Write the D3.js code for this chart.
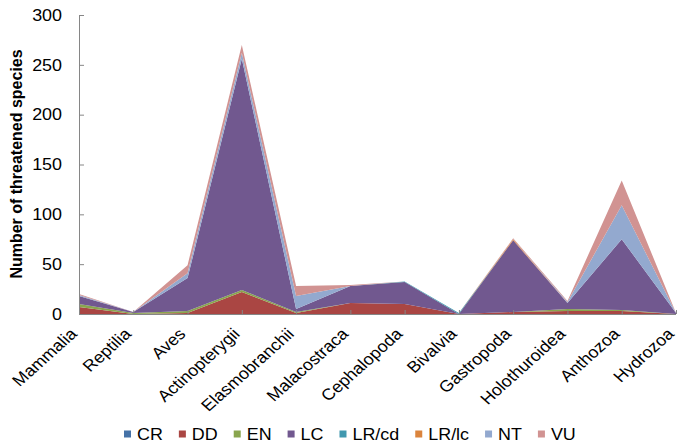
<!DOCTYPE html>
<html>
<head>
<meta charset="utf-8">
<script src="https://cdn.jsdelivr.net/npm/d3@7"></script>
<style>
  html, body { margin: 0; padding: 0; background: #fff; }
  svg { display: block; font-family: "Liberation Sans", Arial, sans-serif; }
</style>
</head>
<body>
<svg id="chart" width="678" height="444"></svg>
<script>
const categories = ["Mammalia","Reptilia","Aves","Actinopterygii","Elasmobranchii","Malacostraca","Cephalopoda","Bivalvia","Gastropoda","Holothuroidea","Anthozoa","Hydrozoa"];
const seriesNames = ["CR","DD","EN","LC","LR/cd","LR/lc","NT","VU"];
const CR   = [0, 0, 0, 0, 0, 0, 0, 0, 0, 0, 0, 0];
const DD   = [7, 0, 1, 22, 1, 11, 10, 0, 2, 3, 3, 0];
const EN   = [3, 1, 2, 2, 1, 0, 0, 0, 0, 2, 1, 0];
const LC   = [8, 1, 33, 232, 3, 17, 22, 0, 72, 6, 71, 1];
const LRcd = [0, 0, 0, 0, 0, 0, 0.5, 1, 0, 0, 0, 0];
const LRlc = [0, 0, 0, 0, 0, 0, 0, 0, 1, 0, 0, 0];
const NT   = [1, 0, 5, 6, 13, 0, 0, 0, 0, 1, 34, 0];
const VU   = [1, 0, 8, 8, 10, 1, 0, 0, 1, 1, 25, 0];
const yTicks = [0, 50, 100, 150, 200, 250, 300];
const colors = ["#4572A7","#AA4643","#89A54E","#71588F","#4198AF","#DB843D","#93A9CF","#D19392"];

const seriesValues = [CR, DD, EN, LC, LRcd, LRlc, NT, VU];
const rows = categories.map((c, i) => {
  const r = { cat: c };
  seriesNames.forEach((s, j) => r[s] = seriesValues[j][i]);
  return r;
});

const svg = d3.select("#chart");
const mLeft = 79, mRight = 676, mTop = 15, mBottom = 314;
const sx = 1.12; // horizontal text stretch seen in the reference

const x = d3.scalePoint().domain(categories).range([mLeft, mRight]);
const y = d3.scaleLinear().domain([0, 300]).range([mBottom, mTop]);

const stack = d3.stack().keys(seriesNames).order(d3.stackOrderNone).offset(d3.stackOffsetNone);
const layers = stack(rows);

const area = d3.area()
  .x(d => x(d.data.cat))
  .y0(d => y(d[0]))
  .y1(d => y(d[1]));

svg.append("g").selectAll("path")
  .data(layers)
  .join("path")
  .attr("d", area)
  .attr("fill", (d, i) => colors[i]);

const axisColor = "#868686";

// Y axis
const yAxis = svg.append("g")
  .attr("transform", `translate(${mLeft},0)`)
  .call(d3.axisLeft(y).tickValues(yTicks).tickSizeInner(-5).tickSizeOuter(0).tickFormat(() => ""));
yAxis.select(".domain").attr("stroke", axisColor);
yAxis.selectAll(".tick line").attr("stroke", axisColor);

svg.append("g").selectAll("text")
  .data(yTicks)
  .join("text")
  .attr("transform", d => `translate(62,${y(d)}) scale(${sx},1)`)
  .attr("text-anchor", "end")
  .attr("dy", "0.36em")
  .attr("font-size", 16)
  .attr("fill", "#000")
  .text(d => d);

// X axis
const xAxis = svg.append("g")
  .attr("transform", `translate(0,${mBottom})`)
  .call(d3.axisBottom(x).tickSizeInner(-4).tickSizeOuter(0).tickFormat(() => ""));
xAxis.select(".domain").attr("stroke", axisColor).attr("d", `M${mLeft},0.5H${mRight}`);
xAxis.selectAll(".tick line").attr("stroke", axisColor);

svg.append("g").selectAll("text")
  .data(categories)
  .join("text")
  .attr("transform", d => `translate(${x(d) - 1},${mBottom + 21}) scale(${sx},1) rotate(-45)`)
  .attr("text-anchor", "end")
  .attr("font-size", 16)
  .attr("fill", "#000")
  .text(d => d);

// Y title
svg.append("text")
  .attr("transform", `translate(22,164) scale(1.05,1) rotate(-90)`)
  .attr("text-anchor", "middle")
  .attr("font-size", 16)
  .attr("font-weight", "bold")
  .attr("fill", "#000")
  .text("Number of threatened species");

// Legend
const legend = svg.append("g").attr("transform", "translate(124,434)");
let lx = 0;
seriesNames.forEach((s, i) => {
  const g = legend.append("g").attr("transform", `translate(${lx},0)`);
  g.append("rect").attr("x", 0).attr("y", -3.5).attr("width", 7).attr("height", 7).attr("fill", colors[i]);
  const t = g.append("text")
    .attr("transform", `translate(13,0) scale(${sx},1)`)
    .attr("dy", "0.36em")
    .attr("font-size", 16).attr("fill", "#000").text(s);
  lx += 13 + t.node().getComputedTextLength() * sx + 16;
});
</script>
</body>
</html>
